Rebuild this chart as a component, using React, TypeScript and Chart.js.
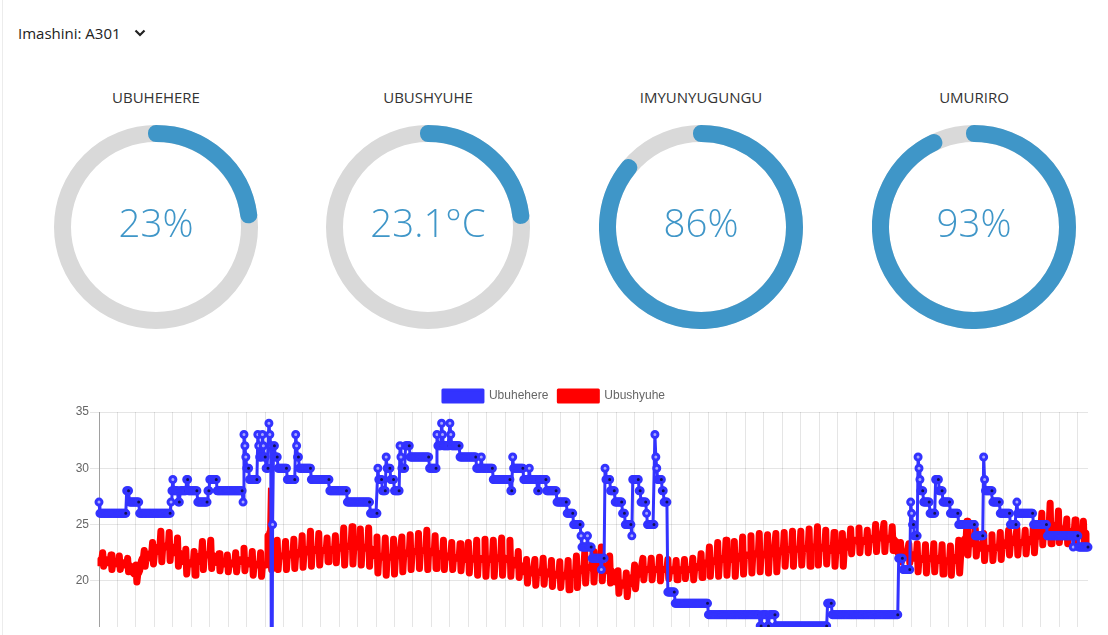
import { useEffect, useRef } from 'react';
import { Chart, registerables } from 'chart.js';

Chart.register(...registerables);

const machineLabel = 'Imashini: A301';
const gaugeTitles = ['UBUHEHERE', 'UBUSHYUHE', 'IMYUNYUGUNGU', 'UMURIRO'];
const gaugeValues = [23, 23.1, 86, 93];
const gaugeMax = [100, 100, 100, 100];
const gaugeUnits = ['%', '°C', '%', '%'];
const seriesNames = ['Ubuhehere', 'Ubushyuhe'];
const yTickRange = [0, 35, 5];

const humidity = [
  27,
  26,26,26,26,26,26,26,26,26,26, 26,26,26,26,26,26,26,26,26,26, 26,26,26,26,26,26,26,26,26,
  28,28,28,
  27,27,27,27,27,27,27,27,27,27, 27,
  26,26,26,26,26,26,26,26,26,26, 26,26,26,26,26,26,26,26,26,26, 26,26,26,26,26,26,26,26,26,26, 26,26,26,26,
  27,28,29,
  28,28,28,28,28,
  27,27,
  28,28,28,28,28,28,28,
  29,29,
  28,28,28,28,28,28,28,28,28,28,
  27,27,27,27,27,27,27,27,27,27, 27,
  28,28,
  29,29,29,29,29,29,29,29,
  28,28,28,28,28,28,28,28,28,28, 28,28,28,28,28,28,28,28,28,28, 28,28,28,28,28,28,28,28,
  27,33,32,31,
  30,30,30,
  29,29,29,29,29,29,29,29,29,
  33,32,
  31,31,31,
  33,32,
  31,31,
  30,30,30,
  34,33,32,0,25,
  32,32,
  31,31,31,
  30,30,30,30,30,30,30,30,30,30,
  29,29,29,29,29,29,29,29,29,
  33,32,
  31,31,
  30,30,30,30,30,30,30,30,30,30, 30,30,30,
  29,29,29,29,29,29,29,29,29,29, 29,29,29,29,29,29,29,29,29,29,
  28,28,28,28,28,28,28,28,28,28, 28,28,28,28,28,28,28,28,28,
  27,27,27,27,27,27,27,27,27,27, 27,27,27,27,27,27,27,27,27,27, 27,27,27,27,27,
  26,26,26,26,26,26,26,26,
  30,
  29,29,29,29,
  28,28,28,28,
  31,
  30,30,30,30,
  29,29,29,29,
  28,28,28,28,28,28,
  32,31,
  30,30,30,30,
  32,32,32,32,32,
  31,31,31,31,31,31,31,31,31,31, 31,31,31,31,31,31,31,31,31,31, 31,
  30,30,30,30,30,30,30,30,
  33,
  32,32,32,32,
  34,33,
  32,32,32,32,32,32,32,
  34,33,
  32,32,32,32,32,32,32,32,32,
  31,31,31,31,31,31,31,31,31,31, 31,31,31,31,31,31,31,31,
  30,30,30,30,30,
  31,
  30,30,30,30,30,30,30,30,30,30, 30,30,
  29,29,29,29,29,29,29,29,29,29, 29,29,29,29,29,29,29,29,29,
  28,28,
  31,
  30,30,30,30,30,30,30,30,30,30, 30,
  29,29,29,29,29,29,
  30,
  29,29,29,29,29,29,29,29,
  28,28,
  29,29,29,29,29,29,29,29,
  28,28,28,28,28,28,28,28,28,28, 28,
  27,27,27,27,27,27,27,27,27,27, 27,
  26,26,26,26,26,26,26,
  25,25,25,25,25,25,25,25,
  24,
  23,23,23,23,23,23,
  24,
  23,23,23,23,
  22,22,22,22,22,22,22,22,22,22,
  21,
  22,22,22,
  30,
  29,29,29,29,29,
  28,28,28,28,28,
  27,27,27,27,27,27,27,27,
  26,26,26,
  25,25,25,25,25,25,25,
  24,
  29,29,29,29,29,29,29,
  28,28,
  27,27,27,27,27,27,
  26,
  25,25,25,25,25,25,25,25,
  33,31,30,
  29,29,29,29,29,
  28,28,
  27,27,27,27,
  19,19,19,19,19,19,19,19,
  18,18,18,18,18,18,18,18,18,18, 18,18,18,18,18,18,18,18,18,18, 18,18,18,18,18,18,18,18,18,18, 18,18,18,18,18,18,
  17,17,17,17,17,17,17,17,17,17, 17,17,17,17,17,17,17,17,17,17, 17,17,17,17,17,17,17,17,17,17,
  17,17,17,17,17,17,17,17,17,17, 17,17,17,17,17,17,17,17,17,17, 17,17,17,17,17,17,
  16,16,
  17,17,17,17,17,17,
  16,16,
  17,17,17,17,17,17,17,
  16,16,16,16,16,16,16,16,16,16, 16,16,16,16,16,16,16,16,16,16, 16,16,16,16,16,16,16,16,16,16,
  16,16,16,16,16,16,16,16,16,16, 16,16,16,16,16,16,16,16,16,16, 16,16,16,16,16,16,
  18,18,18,18,18,
  17,17,17,17,17,17,17,17,17,17, 17,17,17,17,17,17,17,17,17,17, 17,17,17,17,17,17,17,17,17,17,
  17,17,17,17,17,17,17,17,17,17, 17,17,17,17,17,17,17,17,17,17, 17,17,17,17,17,17,17,17,17,17,
  17,17,17,17,17,17,17,17,17,17, 17,17,
  22,22,22,22,22,
  21,21,21,21,21,21,21,21,
  27,26,25,25,
  24,24,24,24,
  31,30,29,
  28,28,28,
  27,27,27,27,27,27,27,
  26,26,26,26,26,26,
  29,29,29,29,
  28,28,28,28,
  27,27,27,27,27,27,27,27,
  26,26,26,26,26,26,26,26,26,
  25,25,25,25,25,25,25,25,25,25, 25,25,25,25,25,25,25,25,
  24,24,24,24,24,24,24,24,24,
  31,29,
  28,28,28,28,28,28,28,28,
  27,27,27,27,27,27,27,27,
  26,26,26,26,26,26,26,26,26,26, 26,
  25,25,25,25,25,25,25,
  27,
  26,26,26,26,26,26,26,26,26,26, 26,26,26,26,26,26,26,
  25,25,25,25,25,25,25,25,25,25, 25,25,25,25,25,
  24,24,24,24,24,24,24,24,24,24, 24,24,24,24,24,24,24,24,24,24, 24,24,24,24,24,24,24,24,
  23,
  24,24,24,24,24,
  23,23,23,23,23,23,23,23,23,23, 23,
];

const temperature = [
  21.6,21.8,21.9,21.9,22.5,21.3,21.9,21.9,21.8,
  21.6,21.7,21.6,21.6,22.3,21.0,21.6,21.7,21.6,
  21.6,21.6,21.5,21.6,22.2,21.0,21.5,21.6,21.6,
  21.4,21.5,21.4,21.4,22.0,20.8,21.4,21.3,21.2,
  20.8,20.7,20.6,20.6,21.4,19.9,20.6,20.7,20.9,
  21.4,21.8,22.0,22.0,22.7,21.3,22.0,22.0,22.1,
  22.3,22.4,22.4,22.4,23.4,21.5,22.4,22.5,22.6,
  22.9,23.0,23.0,23.1,24.4,21.7,23.0,23.0,23.0,
  23.0,23.1,23.0,23.0,24.3,21.8,23.0,22.9,22.8,
  22.6,22.5,22.5,22.5,23.8,21.3,22.5,22.4,22.2,
  21.9,21.7,21.7,21.7,22.8,20.6,21.7,21.6,21.6,
  21.5,21.5,21.6,21.5,22.6,20.5,21.5,21.6,21.8,
  22.0,22.2,22.2,22.3,23.5,21.0,22.2,22.3,22.3,
  22.3,22.3,22.4,22.3,23.6,21.1,22.3,22.2,22.0,
  21.8,21.7,21.6,21.6,22.4,20.9,21.6,21.6,21.5,
  21.5,21.5,21.5,21.5,22.3,20.8,21.5,21.6,21.5,
  21.6,21.6,21.6,21.6,22.5,20.8,21.6,21.7,21.7,
  21.8,21.9,21.9,21.9,22.9,20.9,21.9,21.8,21.6,
  21.5,21.5,21.5,21.5,22.6,20.5,21.5,21.5,21.4,
  21.4,21.4,21.4,21.4,22.5,20.4,21.4,21.4,21.4,
  21.4,21.4,21.5,24.0,28.2,24.3,22.0,21.0,22.3,
  22.3,22.2,22.2,22.2,23.6,21.0,22.2,22.2,22.2,
  22.2,22.2,22.2,22.2,23.5,21.0,22.2,22.2,22.3,
  22.3,22.4,22.3,22.3,23.7,21.1,22.3,22.3,22.4,
  22.5,22.5,22.6,22.5,24.0,21.2,22.5,22.6,22.7,
  22.8,22.8,22.8,22.8,24.4,21.3,22.8,22.8,22.8,
  22.7,22.7,22.8,22.7,24.2,21.4,22.7,22.7,22.7,
  22.7,22.7,22.7,22.7,23.8,21.7,22.7,22.7,22.7,
  22.8,22.8,22.8,22.8,24.0,21.6,22.8,22.8,22.9,
  23.0,23.0,23.0,23.0,24.7,21.4,23.0,23.0,23.0,
  23.1,23.1,23.1,23.1,24.8,21.5,23.1,23.1,23.0,
  23.0,23.0,23.0,23.0,24.6,21.4,23.0,23.0,22.9,
  22.9,22.9,23.0,22.9,24.7,21.3,22.9,22.8,22.6,
  22.4,22.3,22.2,22.2,23.9,20.7,22.2,22.2,22.1,
  22.1,22.1,22.1,22.1,23.8,20.5,22.1,22.1,22.1,
  22.1,22.1,22.1,22.1,23.7,20.6,22.1,22.2,22.2,
  22.3,22.3,22.3,22.3,23.9,20.8,22.3,22.4,22.4,
  22.5,22.5,22.5,22.5,24.1,21.0,22.5,22.5,22.6,
  22.6,22.6,22.6,22.6,24.2,21.1,22.6,22.6,22.6,
  22.7,22.7,22.7,22.7,24.5,21.0,22.7,22.6,22.6,
  22.5,22.5,22.5,22.5,24.0,21.1,22.5,22.4,22.4,
  22.3,22.2,22.2,22.2,23.6,21.0,22.2,22.2,22.2,
  22.2,22.2,22.1,22.1,23.4,21.0,22.1,22.1,22.1,
  22.0,22.0,22.0,22.0,23.3,20.9,22.0,22.0,21.9,
  21.9,22.0,22.0,22.0,23.4,20.7,22.0,22.0,21.9,
  21.9,22.0,22.0,22.0,23.6,20.5,22.0,21.9,21.9,
  21.9,22.0,22.0,22.0,23.7,20.4,22.0,21.9,21.9,
  21.9,21.9,21.9,21.9,23.6,20.4,21.9,21.9,22.0,
  22.0,22.1,22.1,22.1,23.8,20.5,22.1,22.0,22.0,
  21.9,21.9,21.9,21.9,23.6,20.4,21.9,21.8,21.7,
  21.5,21.4,21.4,21.4,22.6,20.3,21.4,21.2,21.0,
  20.9,20.8,20.8,20.8,21.9,19.8,20.8,20.8,20.7,
  20.7,20.7,20.7,20.7,21.9,19.6,20.7,20.7,20.7,
  20.8,20.8,20.8,20.8,22.0,19.7,20.8,20.7,20.7,
  20.6,20.6,20.6,20.6,21.8,19.5,20.6,20.6,20.5,
  20.5,20.5,20.5,20.5,21.7,19.4,20.5,20.5,20.5,
  20.5,20.4,20.4,20.4,21.8,19.2,20.4,20.5,20.6,
  20.7,20.7,20.7,20.7,22.2,19.4,20.7,20.8,20.9,
  21.0,21.1,21.1,21.1,22.5,19.8,21.1,21.1,21.1,
  21.2,21.2,21.2,21.2,22.6,19.9,21.2,21.3,21.4,
  21.4,21.4,21.5,21.4,23.0,20.0,21.4,21.3,21.2,
  21.0,20.9,20.9,20.9,22.2,19.8,20.9,20.7,20.4,
  20.1,19.9,19.9,19.9,20.9,18.9,19.9,19.8,19.8,
  19.7,19.6,19.6,19.6,20.7,18.6,19.6,19.7,19.9,
  20.2,20.3,20.3,20.3,21.4,19.3,20.3,20.5,20.7,
  20.9,21.0,21.0,21.0,22.0,20.1,21.0,21.0,21.0,
  21.0,21.0,21.0,21.0,22.0,20.1,21.0,21.0,21.0,
  21.0,21.0,21.0,21.0,22.1,20.0,21.0,21.0,21.0,
  21.0,21.0,21.0,21.0,21.9,20.2,21.0,21.0,21.0,
  20.9,20.9,20.9,20.9,21.8,20.1,20.9,20.9,20.9,
  21.0,21.0,21.0,21.0,21.9,20.2,21.0,21.0,21.0,
  21.0,21.0,21.0,21.0,22.0,20.1,21.0,21.1,21.2,
  21.3,21.3,21.3,21.3,22.4,20.3,21.3,21.4,21.5,
  21.6,21.6,21.6,21.6,23.0,20.4,21.6,21.7,21.7,
  21.8,21.8,21.8,21.8,23.4,20.4,21.8,21.8,21.9,
  22.0,22.0,22.0,22.0,23.6,20.5,22.0,22.0,21.9,
  21.9,21.9,21.9,21.9,23.5,20.4,21.9,22.0,22.0,
  22.1,22.2,22.2,22.2,23.9,20.6,22.2,22.2,22.2,
  22.3,22.3,22.3,22.3,24.0,20.7,22.3,22.3,22.4,
  22.4,22.4,22.4,22.4,24.2,20.8,22.4,22.4,22.4,
  22.3,22.3,22.3,22.3,24.1,20.7,22.3,22.4,22.4,
  22.4,22.4,22.4,22.4,24.2,20.8,22.4,22.5,22.6,
  22.7,22.7,22.7,22.7,24.3,21.3,22.7,22.7,22.7,
  22.8,22.8,22.8,22.8,24.4,21.3,22.8,22.8,22.8,
  22.8,22.8,22.8,22.8,24.4,21.4,22.8,22.8,22.8,
  22.9,22.9,22.9,22.9,24.6,21.3,22.9,22.9,23.0,
  23.0,23.0,23.0,23.0,24.8,21.4,23.0,23.0,23.0,
  22.9,22.9,22.9,22.9,24.5,21.5,22.9,22.9,22.9,
  22.8,22.7,22.7,22.7,24.3,21.3,22.7,22.7,22.7,
  22.7,22.7,22.7,22.7,24.2,21.3,22.7,22.9,23.1,
  23.4,23.5,23.5,23.5,24.6,22.4,23.5,23.5,23.5,
  23.6,23.6,23.6,23.6,24.7,22.5,23.6,23.6,23.5,
  23.5,23.5,23.5,23.5,24.5,22.5,23.5,23.6,23.6,
  23.7,23.8,23.8,23.8,25.0,22.6,23.8,23.8,23.8,
  23.8,23.8,23.8,23.8,25.1,22.6,23.8,23.8,23.8,
  23.7,23.7,23.7,23.7,24.8,22.7,23.7,23.5,23.2,
  22.7,22.5,22.5,22.5,23.4,21.7,22.5,22.5,22.5,
  22.4,22.4,22.4,22.4,23.3,21.6,22.4,22.3,22.2,
  22.1,22.0,22.0,22.0,23.3,20.8,22.0,22.0,22.0,
  21.9,21.9,21.9,21.9,23.2,20.7,21.9,21.9,21.9,
  22.0,22.0,22.0,22.0,23.3,20.8,22.0,22.0,21.9,
  21.8,21.8,21.8,21.8,23.2,20.6,21.8,21.8,21.8,
  21.7,21.7,21.7,21.7,23.1,20.5,21.7,21.8,21.8,
  22.0,22.1,22.1,22.1,23.6,20.7,22.1,22.5,23.0,
  23.5,23.7,23.7,23.7,25.3,22.3,23.7,23.6,23.5,
  23.4,23.3,23.3,23.3,24.6,22.2,23.3,23.2,23.1,
  23.0,22.9,22.9,22.9,24.2,21.8,22.9,22.9,22.9,
  22.9,22.9,22.9,22.9,24.1,21.8,22.9,22.9,22.9,
  23.0,23.0,23.0,23.0,24.3,21.9,23.0,23.1,23.2,
  23.3,23.4,23.4,23.4,24.5,22.3,23.4,23.4,23.4,
  23.4,23.4,23.4,23.4,24.6,22.3,23.4,23.4,23.4,
  23.4,23.4,23.4,23.4,24.5,22.4,23.4,23.5,23.5,
  23.6,23.7,23.7,23.7,25.0,22.5,23.7,23.9,24.1,
  24.4,24.5,24.5,24.5,26.0,23.2,24.5,24.6,24.7,
  24.9,25.0,25.0,25.0,26.9,23.3,25.0,24.9,24.8,
  24.7,24.7,24.7,24.7,26.2,23.4,24.7,24.6,24.5,
  24.4,24.4,24.4,24.4,25.5,23.3,24.4,24.4,24.4,
  24.3,24.3,24.3,24.3,25.4,23.2,24.3,24.3,24.3,
  24.3,24.3,24.3,24.3,25.3,23.3,24.3,24.2,24.0,
  23.0,
];

const timeLabels = humidity.map((_, i) => String(i + 1));

const GAUGE_BLUE = '#3f96c8';
const GAUGE_TRACK = '#d9d9d9';
const GAUGE_SIZE = 204;
const RING_BORDER = 16;
const gaugeCenters = [156, 428, 701, 974];

const trackPlugin = {
  id: 'gaugeTrack',
  beforeDatasetsDraw(chart: any) {
    const arc = chart.getDatasetMeta(0).data[0];
    if (!arc) return;
    const { x, y, innerRadius, outerRadius } = arc.getProps(['x', 'y', 'innerRadius', 'outerRadius'], true);
    const ctx = chart.ctx;
    ctx.save();
    ctx.beginPath();
    ctx.arc(x, y, (innerRadius + outerRadius) / 2, 0, Math.PI * 2);
    ctx.lineWidth = outerRadius - innerRadius + RING_BORDER;
    ctx.strokeStyle = GAUGE_TRACK;
    ctx.stroke();
    ctx.restore();
  },
};

function Gauge({ index }: { index: number }) {
  const ref = useRef<HTMLCanvasElement>(null);
  useEffect(() => {
    const value = gaugeValues[index];
    const max = gaugeMax[index];
    const chart = new Chart(ref.current as HTMLCanvasElement, {
      type: 'doughnut',
      data: {
        labels: ['value', 'rest'],
        datasets: [
          {
            data: [value, max - value],
            backgroundColor: [GAUGE_BLUE, 'rgba(0,0,0,0)'],
            borderColor: [GAUGE_BLUE, 'rgba(0,0,0,0)'],
            borderWidth: [RING_BORDER, 0],
            hoverBorderWidth: [RING_BORDER, 0],
            borderJoinStyle: 'round',
            borderAlign: 'center',
            hoverOffset: 0,
            offset: 0,
          } as any,
        ],
      },
      options: {
        responsive: false,
        animation: false,
        events: [],
        cutout: (GAUGE_SIZE - RING_BORDER) / 2 - 1,
        rotation: 0,
        circumference: 360,
        layout: { padding: 0 },
        plugins: { legend: { display: false }, tooltip: { enabled: false } },
      } as any,
      plugins: [trackPlugin],
    });
    return () => chart.destroy();
  }, [index]);
  const cx = gaugeCenters[index] - 8;
  return (
    <>
      <div
        style={{
          position: 'absolute',
          left: cx - 120,
          width: 240,
          top: 79,
          textAlign: 'center',
          fontSize: 15,
          lineHeight: '20px',
          color: '#333',
        }}
      >
        {gaugeTitles[index]}
      </div>
      <canvas
        ref={ref}
        width={GAUGE_SIZE}
        height={GAUGE_SIZE}
        style={{ position: 'absolute', left: cx - GAUGE_SIZE / 2, top: 117, width: GAUGE_SIZE, height: GAUGE_SIZE }}
      />
      <div
        style={{
          position: 'absolute',
          left: cx - 100,
          width: 200,
          top: 188,
          textAlign: 'center',
          fontSize: 38.5,
          lineHeight: '52px',
          fontWeight: 300,
          color: GAUGE_BLUE,
        }}
      >
        {gaugeValues[index] + gaugeUnits[index]}
      </div>
    </>
  );
}

function LineChart() {
  const ref = useRef<HTMLCanvasElement>(null);
  useEffect(() => {
    const humidCenter = (c: any) => {
      const i = c.dataIndex;
      const v = humidity[i];
      if (humidity[i - 1] !== v && humidity[i + 1] !== v) return '#a8a8ff';
      return '#111155';
    };
    const tempSegmentWidth = (c: any) => (c.p0.parsed.y > 27.5 || c.p1.parsed.y > 27.5 ? 2 : 7);
    const chart = new Chart(ref.current as HTMLCanvasElement, {
      type: 'line',
      data: {
        labels: timeLabels,
        datasets: [
          {
            label: seriesNames[0],
            data: humidity,
            borderColor: '#3333ff',
            backgroundColor: '#3333ff',
            borderWidth: 3,
            borderJoinStyle: 'round',
            borderCapStyle: 'round',
            fill: false,
            tension: 0,
            pointRadius: 3,
            pointBorderWidth: 3,
            pointBorderColor: '#3333ff',
            pointBackgroundColor: humidCenter,
          },
          {
            label: seriesNames[1],
            data: temperature,
            borderColor: '#ff0000',
            backgroundColor: '#ff0000',
            borderWidth: 3,
            borderJoinStyle: 'round',
            borderCapStyle: 'round',
            segment: { borderWidth: tempSegmentWidth },
            fill: false,
            tension: 0,
            pointRadius: 0,
          },
        ],
      },
      options: {
        responsive: false,
        animation: false,
        events: [],
        layout: { padding: { left: 12, right: 12, top: 0, bottom: 0 } },
        plugins: {
          legend: {
            display: true,
            position: 'top',
            labels: { boxWidth: 40, color: '#666', font: { size: 12 } },
          },
          tooltip: { enabled: false },
        },
        scales: {
          x: {
            grid: { color: 'rgba(0,0,0,0.1)', tickLength: 10 },
            border: { color: 'rgba(0,0,0,0.1)' },
            ticks: {
              autoSkip: true,
              maxTicksLimit: 54,
              autoSkipPadding: 3,
              minRotation: 90,
              maxRotation: 90,
              color: '#666',
              font: { size: 12 },
            },
            afterFit: (scale: any) => {
              scale.height = 40;
            },
          },
          y: {
            min: yTickRange[0],
            max: yTickRange[1],
            grid: { color: 'rgba(0,0,0,0.1)', tickLength: 9 },
            border: { color: 'rgba(0,0,0,0.3)' },
            ticks: { stepSize: yTickRange[2], color: '#666', font: { size: 12 }, padding: 1 },
            afterFit: (scale: any) => {
              scale.width = 79;
            },
          },
        },
      } as any,
    });
    return () => chart.destroy();
  }, []);
  return (
    <canvas
      ref={ref}
      width={1092}
      height={466}
      style={{ position: 'absolute', left: 0, top: 372, width: 1092, height: 466 }}
    />
  );
}

export default function App() {
  return (
    <>
      <div style={{ position: 'fixed', left: 2, top: 0, width: 1, height: '100%', background: '#ececec' }} />
      <div
        style={{
          position: 'relative',
          width: 1092,
          height: 619,
          overflow: 'hidden',
          fontFamily: "'Segoe UI', 'Open Sans', sans-serif",
        }}
      >
        <div style={{ position: 'absolute', left: 10, top: 15, fontSize: 15, lineHeight: '20px', color: '#222' }}>
          {machineLabel}
        </div>
        <svg
          width={12}
          height={8}
          viewBox="0 0 12 8"
          style={{ position: 'absolute', left: 125.5, top: 20.5 }}
        >
          <polyline points="1.5,1.5 6,6 10.5,1.5" fill="none" stroke="#222" strokeWidth={2.2} />
        </svg>
        {gaugeTitles.map((_, i) => (
          <Gauge key={i} index={i} />
        ))}
        <LineChart />
      </div>
    </>
  );
}
